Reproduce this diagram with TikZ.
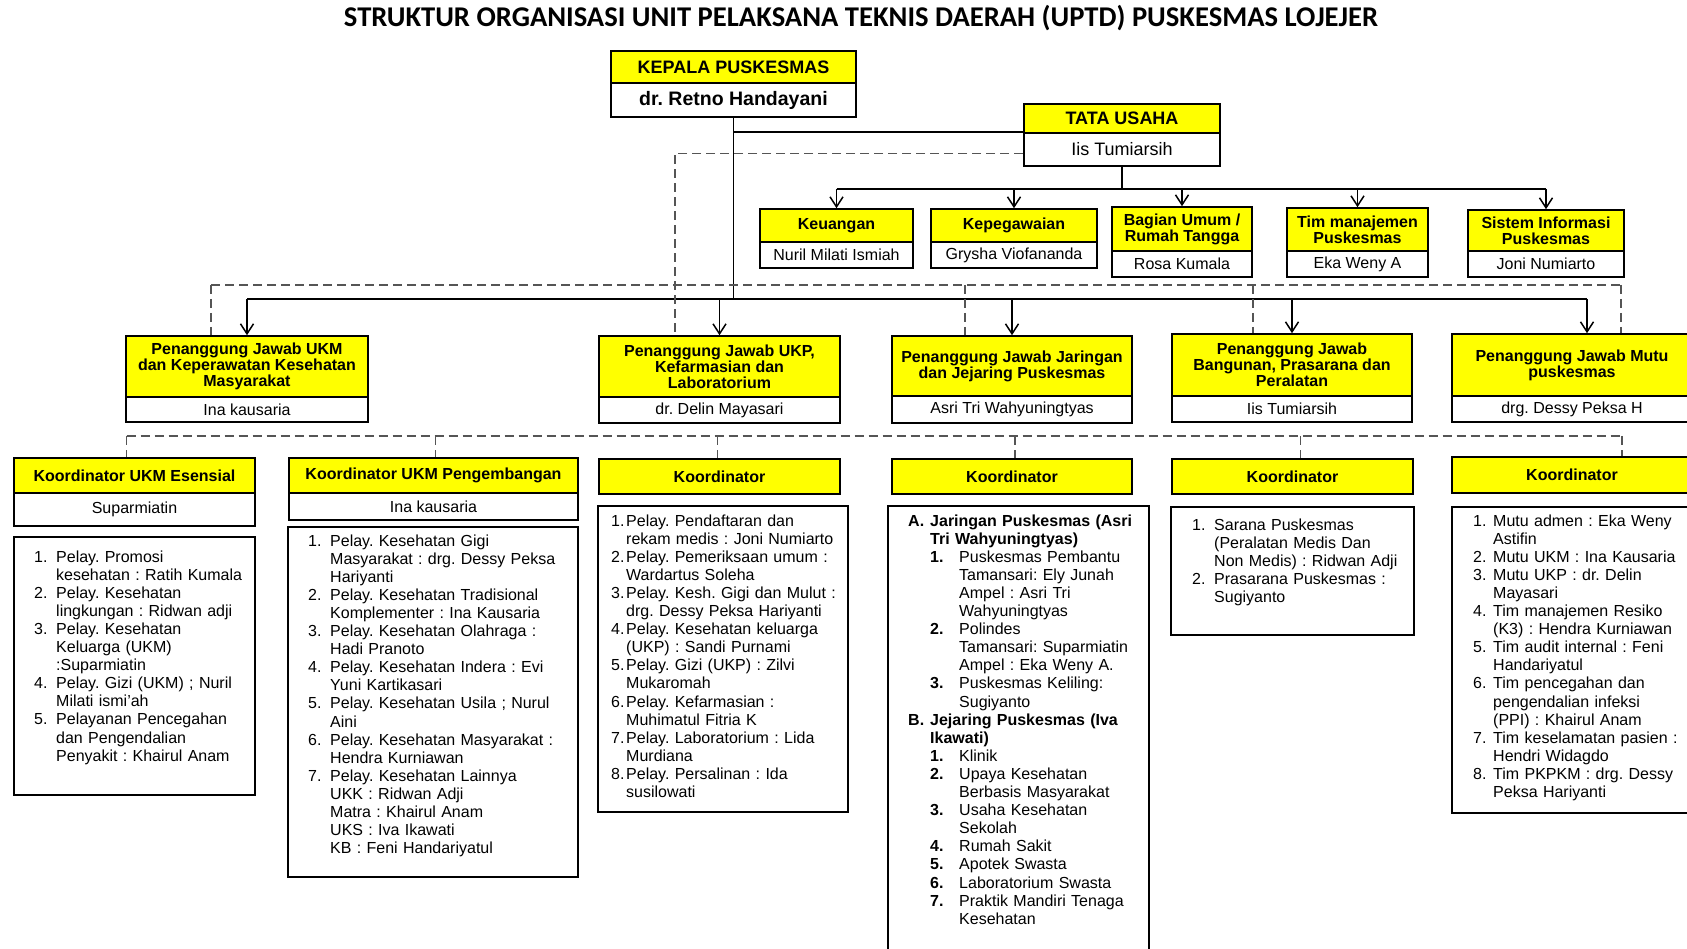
\documentclass[tikz,border=0pt]{standalone}
\usepackage{fontspec}
\setmainfont{Liberation Sans}
\newfontfamily\titlefont{Carlito}
\usetikzlibrary{calc}
\usetikzlibrary{arrows.meta}
\definecolor{kuning}{RGB}{255,255,0}
\definecolor{abu}{RGB}{85,85,85}
\frenchspacing
\tikzset{
  head/.style = {draw=black, line width=1.6pt, fill=kuning, align=center, inner sep=0pt,
    font=\bfseries\fontsize{16}{16}\selectfont},
  person/.style = {draw=black, line width=1.6pt, fill=white, align=center, inner sep=0pt,
    font=\fontsize{16}{16}\selectfont},
  listbox/.style = {draw=black, line width=1.6pt, fill=white, inner sep=0pt},
  listtext/.style = {inner sep=0pt, anchor=base west, text width=300pt,
    font=\fontsize{16}{18.1}\selectfont},
  link/.style = {black, line width=1.5pt},
  arrowlink/.style = {link, -{Straight Barb[length=10pt,width=13pt]}},
  dashlink/.style = {abu, line width=1.5pt, dash pattern=on 9pt off 5pt}
}
\newcommand{\posbox}[8]{%
  % #1: nama node, #2: kiri, #3: atas, #4: kanan, #5: batas, #6: bawah
  % #7: jabatan, #8: nama pejabat
  \node[head, minimum width=#4-#2, minimum height=#5-#3] (#1) at ({(#2+#4)/2},{(#3+#5)/2}) {#7};
  \node[person, minimum width=#4-#2, minimum height=#6-#5] (#1-n) at ({(#2+#4)/2},{(#5+#6)/2}) {#8};
}
\newcommand{\headbox}[6]{%
  % #1: nama node, #2: kiri, #3: atas, #4: kanan, #5: bawah, #6: teks
  \node[head, minimum width=#4-#2, minimum height=#5-#3] (#1) at ({(#2+#4)/2},{(#3+#5)/2}) {#6};
}
\newcommand{\listframe}[5]{%
  % #1: nama node, #2: kiri, #3: atas, #4: kanan, #5: bawah
  \node[listbox, minimum width=#4-#2, minimum height=#5-#3] (#1) at ({(#2+#4)/2},{(#3+#5)/2}) {};
}
\newcommand{\li}[4][0pt]{%
  % #1: geser kiri, #2: lebar nomor, #3: nomor, #4: isi
  \raggedright\frenchspacing\leftskip=#1\relax\hangindent=#2\relax\hangafter=1\relax
  \noindent\makebox[#2][l]{#3}{#4}\par}

\begin{document}
\begin{tikzpicture}[x=1pt,y=-1pt]
  \useasboundingbox (0,0) rectangle (1687,949);
  \fill[white] (0,0) rectangle (1687,949);
  \clip (0,0) rectangle (1687,949);

  % Judul
  \node[font=\titlefont\bfseries\fontsize{28.6}{28.6}\selectfont] (title) at (861,18)
    {STRUKTUR ORGANISASI UNIT PELAKSANA TEKNIS DAERAH (UPTD) PUSKESMAS LOJEJER};

  % Pimpinan
  \posbox{kepala}{611}{51}{856}{83}{117}{\fontsize{18}{18}\selectfont KEPALA PUSKESMAS}{\bfseries\fontsize{19.5}{20}\selectfont dr. Retno Handayani}
  \posbox{tu}{1024}{104}{1220}{133}{166}{\fontsize{18}{18}\selectfont TATA USAHA}{\fontsize{18}{18}\selectfont Iis Tumiarsih}

  % Staf tata usaha
  \posbox{keu}{760}{209}{913}{242}{268}{Keuangan}{Nuril Milati Ismiah}
  \posbox{peg}{931}{209}{1097}{242}{268}{Kepegawaian}{Grysha Viofananda}
  \posbox{umum}{1112}{207}{1252}{251}{277}{Bagian Umum /\\Rumah Tangga}{Rosa Kumala}
  \posbox{tim}{1287}{208}{1428}{251}{277}{Tim manajemen\\Puskesmas}{Eka Weny A}
  \posbox{si}{1468}{210}{1624}{251}{277}{Sistem Informasi\\Puskesmas}{Joni Numiarto}

  % Penanggung jawab
  \posbox{pjUkm}{126}{336}{368}{397}{422}{Penanggung Jawab UKM\\dan Keperawatan Kesehatan\\Masyarakat}{Ina kausaria}
  \posbox{pjUkp}{599}{336}{840}{397}{423}{Penanggung Jawab UKP,\\Kefarmasian dan\\Laboratorium}{dr. Delin Mayasari}
  \posbox{pjJar}{892}{336}{1132}{396}{423}{Penanggung Jawab Jaringan\\dan Jejaring Puskesmas}{Asri Tri Wahyuningtyas}
  \posbox{pjBang}{1172}{334}{1412}{396}{422}{Penanggung Jawab\\Bangunan, Prasarana dan\\Peralatan}{Iis Tumiarsih}
  \posbox{pjMutu}{1452}{334}{1692}{396}{422}{Penanggung Jawab Mutu\\puskesmas}{drg. Dessy Peksa H}

  % Koordinator
  \posbox{koEs}{14}{458}{255}{493}{526}{Koordinator UKM Esensial}{Suparmiatin}
  \posbox{koPg}{289}{458}{578}{493}{520}{Koordinator UKM Pengembangan}{Ina kausaria}
  \headbox{koUkp}{599}{459}{840}{494}{Koordinator}
  \headbox{koJar}{892}{459}{1132}{494}{Koordinator}
  \headbox{koBang}{1172}{459}{1413}{494}{Koordinator}
  \headbox{koMutu}{1452}{457}{1692}{493}{Koordinator}

  % Daftar pelayanan
  \listframe{lsEs}{14}{537}{255}{795}
  \listframe{lsPg}{288}{527}{578}{877}
  \listframe{lsUkp}{598}{506}{848}{812}
  \listframe{lsJar}{888}{506}{1149}{956}
  \listframe{lsBang}{1171}{507}{1414}{635}
  \listframe{lsMutu}{1452}{507}{1700}{813}

  \node[listtext] (esText) at (34,562) {%
    \li{22pt}{1.}{Pelay. Promosi\newline kesehatan : Ratih Kumala}
    \li{22pt}{2.}{Pelay. Kesehatan\newline lingkungan : Ridwan adji}
    \li{22pt}{3.}{Pelay. Kesehatan\newline Keluarga (UKM)\newline :Suparmiatin}
    \li{22pt}{4.}{Pelay. Gizi (UKM) ; Nuril\newline Milati ismi’ah}
    \li{22pt}{5.}{Pelayanan Pencegahan\newline dan Pengendalian\newline Penyakit : Khairul Anam}};
  \node[listtext] (pgText) at (308,546) {%
    \li{22pt}{1.}{Pelay. Kesehatan Gigi\newline Masyarakat : drg. Dessy Peksa\newline Hariyanti}
    \li{22pt}{2.}{Pelay. Kesehatan Tradisional\newline Komplementer : Ina Kausaria}
    \li{22pt}{3.}{Pelay. Kesehatan Olahraga :\newline Hadi Pranoto}
    \li{22pt}{4.}{Pelay. Kesehatan Indera : Evi\newline Yuni Kartikasari}
    \li{22pt}{5.}{Pelay. Kesehatan Usila ; Nurul\newline Aini}
    \li{22pt}{6.}{Pelay. Kesehatan Masyarakat :\newline Hendra Kurniawan}
    \li{22pt}{7.}{Pelay. Kesehatan Lainnya\newline UKK : Ridwan Adji\newline Matra : Khairul Anam\newline UKS : Iva Ikawati\newline KB : Feni Handariyatul}};
  \node[listtext] (ukpText) at (611,526) {%
    \li{15pt}{1.}{Pelay. Pendaftaran dan\newline rekam medis : Joni Numiarto}
    \li{15pt}{2.}{Pelay. Pemeriksaan umum :\newline Wardartus Soleha}
    \li{15pt}{3.}{Pelay. Kesh. Gigi dan Mulut :\newline drg. Dessy Peksa Hariyanti}
    \li{15pt}{4.}{Pelay. Kesehatan keluarga\newline (UKP) : Sandi Purnami}
    \li{15pt}{5.}{Pelay. Gizi (UKP) : Zilvi\newline Mukaromah}
    \li{15pt}{6.}{Pelay. Kefarmasian :\newline Muhimatul Fitria K}
    \li{15pt}{7.}{Pelay. Laboratorium : Lida\newline Murdiana}
    \li{15pt}{8.}{Pelay. Persalinan : Ida\newline susilowati}};
  \node[listtext] (jarText) at (908,526) {%
    \li{22pt}{\bfseries A.}{\bfseries Jaringan Puskesmas (Asri\newline Tri Wahyuningtyas)}
    \li[22pt]{29pt}{\bfseries 1.}{Puskesmas Pembantu\newline Tamansari: Ely Junah\newline Ampel : Asri Tri\newline Wahyuningtyas}
    \li[22pt]{29pt}{\bfseries 2.}{Polindes\newline Tamansari: Suparmiatin\newline Ampel : Eka Weny A.}
    \li[22pt]{29pt}{\bfseries 3.}{Puskesmas Keliling:\newline Sugiyanto}
    \li{22pt}{\bfseries B.}{\bfseries Jejaring Puskesmas (Iva\newline Ikawati)}
    \li[22pt]{29pt}{\bfseries 1.}{Klinik}
    \li[22pt]{29pt}{\bfseries 2.}{Upaya Kesehatan\newline Berbasis Masyarakat}
    \li[22pt]{29pt}{\bfseries 3.}{Usaha Kesehatan\newline Sekolah}
    \li[22pt]{29pt}{\bfseries 4.}{Rumah Sakit}
    \li[22pt]{29pt}{\bfseries 5.}{Apotek Swasta}
    \li[22pt]{29pt}{\bfseries 6.}{Laboratorium Swasta}
    \li[22pt]{29pt}{\bfseries 7.}{Praktik Mandiri Tenaga\newline Kesehatan}};
  \node[listtext] (bangText) at (1192,530) {%
    \li{22pt}{1.}{Sarana Puskesmas\newline (Peralatan Medis Dan\newline Non Medis) : Ridwan Adji}
    \li{22pt}{2.}{Prasarana Puskesmas :\newline Sugiyanto}};
  \node[listtext] (mutuText) at (1473,526) {%
    \li{20pt}{1.}{Mutu admen : Eka Weny\newline Astifin}
    \li{20pt}{2.}{Mutu UKM : Ina Kausaria}
    \li{20pt}{3.}{Mutu UKP : dr. Delin\newline Mayasari}
    \li{20pt}{4.}{Tim manajemen Resiko\newline (K3) : Hendra Kurniawan}
    \li{20pt}{5.}{Tim audit internal : Feni\newline Handariyatul}
    \li{20pt}{6.}{Tim pencegahan dan\newline pengendalian infeksi\newline (PPI) : Khairul Anam}
    \li{20pt}{7.}{Tim keselamatan pasien :\newline Hendri Widagdo}
    \li{20pt}{8.}{Tim PKPKM : drg. Dessy\newline Peksa Hariyanti}};

  % Garis bantu
  \coordinate (busStaf) at (0,189);
  \coordinate (busDash) at (0,285);
  \coordinate (busPJ) at (0,299);
  \coordinate (busKo) at (0,436);
  \coordinate (dUkm) at (211,0);
  \coordinate (dUkp) at (675,0);
  \coordinate (dJar) at (965,0);
  \coordinate (dBang) at (1253,0);
  \coordinate (dMutu) at (1621,0);
  \coordinate (tuDash) at ($(tu-n.west)+(0,4)$);

  % Garis komando
  \draw[link] (kepala-n.south) -- (kepala-n.south |- busPJ);
  \draw[link] (kepala-n.south |- tu-n.north west) -- (tu-n.north west);
  \draw[link] (tu-n.south) -- (tu-n.south |- busStaf);
  \draw[link] (keu.north |- busStaf) -- (si.north |- busStaf);
  \foreach \st in {keu,peg,umum,tim,si} {
    \draw[arrowlink] (\st.north |- busStaf) -- (\st.north);
  }
  \draw[link] (pjUkm.north |- busPJ) -- ($(pjMutu.north |- busPJ)+(15,0)$);
  \foreach \pj in {pjUkm,pjUkp,pjJar,pjBang} {
    \draw[arrowlink] (\pj.north |- busPJ) -- (\pj.north);
  }
  \draw[arrowlink] ($(pjMutu.north |- busPJ)+(15,0)$) -- ($(pjMutu.north)+(15,0)$);

  % Garis koordinasi
  \draw[dashlink] (tuDash) -- (tuDash -| dUkp) -- (dUkp |- pjUkp.north);
  \draw[dashlink] (dUkm |- busDash) -- (dMutu |- busDash);
  \foreach \d/\pj in {dUkm/pjUkm,dJar/pjJar,dBang/pjBang,dMutu/pjMutu} {
    \draw[dashlink] (\d |- busDash) -- (\d |- \pj.north);
  }
  \draw[dashlink] ($(koEs.north |- busKo)+(-8,0)$) -- ($(koMutu.north |- busKo)+(50,0)$);
  \foreach \ko/\dx in {koEs/-8,koPg/2,koUkp/-2,koJar/3,koBang/8,koMutu/50} {
    \draw[dashlink] ($(\ko.north |- busKo)+(\dx,0)$) -- ($(\ko.north)+(\dx,0)$);
  }

\end{tikzpicture}
\end{document}
